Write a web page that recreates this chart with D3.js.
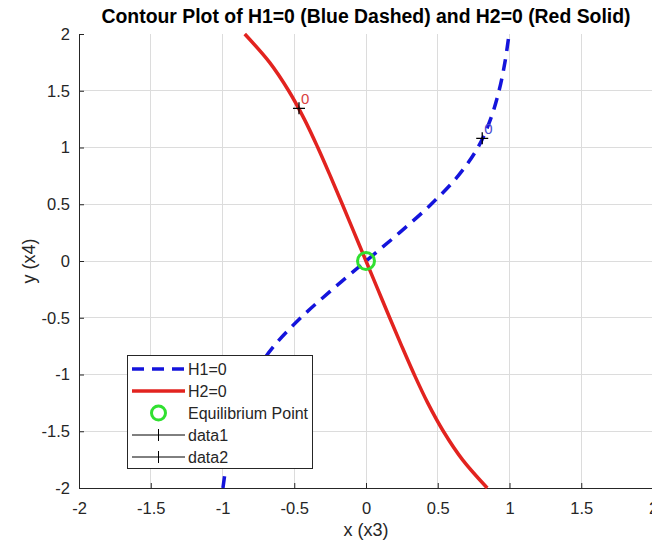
<!DOCTYPE html>
<html>
<head>
<meta charset="utf-8">
<script src="https://cdn.jsdelivr.net/npm/d3@7"></script>
<style>
html,body{margin:0;padding:0;background:#fff;}
svg{display:block;font-family:"Liberation Sans",Arial,Helvetica,sans-serif;}
</style>
</head>
<body>
<svg id="chart" width="652" height="544"></svg>
<script>
// ---- data ----
const titleText = "Contour Plot of H1=0 (Blue Dashed) and H2=0 (Red Solid)";
const xLabel = "x (x3)";
const yLabel = "y (x4)";
const xTicks = [-2, -1.5, -1, -0.5, 0, 0.5, 1, 1.5, 2];
const yTicks = [-2, -1.5, -1, -0.5, 0, 0.5, 1, 1.5, 2];
// H1 = 0 contour (blue dashed): x as function of y
const curveY = [-2, -1.75, -1.5, -1.25, -1, -0.75, -0.5, -0.25, 0, 0.25, 0.5, 0.75, 1, 1.25, 1.5, 1.75, 2];
const h1X = [-0.997, -0.968, -0.927, -0.868, -0.78, -0.642, -0.454, -0.234, 0, 0.234, 0.454, 0.642, 0.78, 0.868, 0.927, 0.968, 0.997];
// H2 = 0 contour (red solid)
const h2X = [0.845, 0.672, 0.539, 0.43, 0.336, 0.249, 0.165, 0.0825, 0, -0.0825, -0.165, -0.249, -0.336, -0.43, -0.539, -0.672, -0.845];
const equilibrium = [0, 0];
// contour label points (data1, data2)
const labelPointsX = [-0.467, 0.81];
const labelPointsY = [1.345, 1.081];
const labelTexts = ["0", "0"];
const legendNames = ["H1=0", "H2=0", "Equilibrium Point", "data1", "data2"];

// ---- layout ----
const svg = d3.select("#chart");
const L = 79, R = 653, T = 34, B = 488;
const x = d3.scaleLinear().domain([-2, 2]).range([L, R]);
const y = d3.scaleLinear().domain([-2, 2]).range([B, T]);
const axisColor = "#262626";
const blue = "#1414dc", red = "#e2231f", green = "#30e030";

// grid
const g = svg.append("g");
g.selectAll(".gx").data(xTicks.filter(d => d > -2 && d < 2)).join("line")
  .attr("x1", d => x(d)).attr("x2", d => x(d)).attr("y1", T).attr("y2", B)
  .attr("stroke", "#dcdcdc").attr("stroke-width", 1).attr("shape-rendering", "crispEdges");
g.selectAll(".gy").data(yTicks.filter(d => d > -2 && d < 2)).join("line")
  .attr("y1", d => y(d)).attr("y2", d => y(d)).attr("x1", L).attr("x2", R)
  .attr("stroke", "#dcdcdc").attr("stroke-width", 1).attr("shape-rendering", "crispEdges");

// axes
const fmt = d => d3.format("")(d).replace("−", "-");
const xAxis = svg.append("g").attr("transform", `translate(0,${B})`)
  .call(d3.axisBottom(x).tickValues(xTicks).tickSize(-5).tickSizeOuter(0).tickPadding(10).tickFormat(fmt));
const yAxis = svg.append("g").attr("transform", `translate(${L},0)`)
  .call(d3.axisLeft(y).tickValues(yTicks).tickSize(-5).tickSizeOuter(0).tickPadding(9).tickFormat(fmt));
[xAxis, yAxis].forEach(a => {
  a.select(".domain").attr("stroke", axisColor).attr("stroke-width", 1);
  a.selectAll(".tick line").attr("stroke", axisColor);
  a.selectAll(".tick text").attr("fill", axisColor).attr("font-size", 16.5)
    .attr("font-family", "'Liberation Sans',Arial,sans-serif");
});
xAxis.selectAll(".tick text").attr("dy", "0.95em");

// curves
const line = d3.line().x(d => x(d[0])).y(d => y(d[1])).curve(d3.curveCatmullRom.alpha(0.5));
const h1 = curveY.map((v, i) => [h1X[i], v]);
const h2 = curveY.map((v, i) => [h2X[i], v]);
svg.append("path").attr("d", line(h2)).attr("fill", "none").attr("stroke", red).attr("stroke-width", 3.5);
svg.append("path").attr("d", line(h1)).attr("fill", "none").attr("stroke", blue).attr("stroke-width", 3.5)
  .attr("stroke-dasharray", "12,8");

// equilibrium point
svg.append("circle").attr("cx", x(equilibrium[0])).attr("cy", y(equilibrium[1])).attr("r", 8.5)
  .attr("fill", "none").attr("stroke", green).attr("stroke-width", 3);

// contour label markers
const labelColors = ["#d84040", "#4a4ad0"];
labelPointsX.forEach((px, i) => {
  const cx = x(px), cy = y(labelPointsY[i]);
  svg.append("path").attr("d", `M${cx - 6},${cy}H${cx + 6}M${cx},${cy - 6}V${cy + 6}`)
    .attr("stroke", "#000").attr("stroke-width", 1.3);
  svg.append("text").attr("x", cx + 2).attr("y", cy - 4).text(labelTexts[i])
    .attr("font-size", 15).attr("fill", labelColors[i]);
});

// title and labels
svg.append("text").attr("x", (L + R) / 2).attr("y", 23).attr("text-anchor", "middle")
  .attr("font-weight", "bold").attr("font-size", 19.4).attr("fill", "#000").text(titleText);
svg.append("text").attr("x", (L + R) / 2).attr("y", 536).attr("text-anchor", "middle")
  .attr("font-size", 18).attr("fill", axisColor).text(xLabel);
svg.append("text").attr("transform", `translate(35,${(T + B) / 2}) rotate(-90)`).attr("text-anchor", "middle")
  .attr("font-size", 18).attr("fill", axisColor).text(yLabel);

// legend
const lg = svg.append("g");
lg.append("rect").attr("x", 127.5).attr("y", 355.5).attr("width", 185).attr("height", 113)
  .attr("fill", "#fff").attr("stroke", axisColor).attr("stroke-width", 1);
const rowY = [369, 391, 413, 435, 457];
const sx1 = 132, sx2 = 185, smid = 158.5;
lg.append("line").attr("x1", sx1).attr("x2", sx2).attr("y1", rowY[0]).attr("y2", rowY[0])
  .attr("stroke", blue).attr("stroke-width", 3.5).attr("stroke-dasharray", "12,8");
lg.append("line").attr("x1", sx1).attr("x2", sx2).attr("y1", rowY[1]).attr("y2", rowY[1])
  .attr("stroke", red).attr("stroke-width", 3.5);
lg.append("circle").attr("cx", smid).attr("cy", rowY[2]).attr("r", 7)
  .attr("fill", "none").attr("stroke", green).attr("stroke-width", 3);
[3, 4].forEach(k => {
  lg.append("line").attr("x1", sx1).attr("x2", sx2).attr("y1", rowY[k]).attr("y2", rowY[k])
    .attr("stroke", "#000").attr("stroke-width", 1);
  lg.append("line").attr("x1", smid).attr("x2", smid).attr("y1", rowY[k] - 6).attr("y2", rowY[k] + 6)
    .attr("stroke", "#000").attr("stroke-width", 1);
});
lg.selectAll(".lt").data(legendNames).join("text")
  .attr("x", 188).attr("y", (d, i) => rowY[i] + 6).text(d => d)
  .attr("font-size", 16).attr("fill", axisColor);
</script>
</body>
</html>
